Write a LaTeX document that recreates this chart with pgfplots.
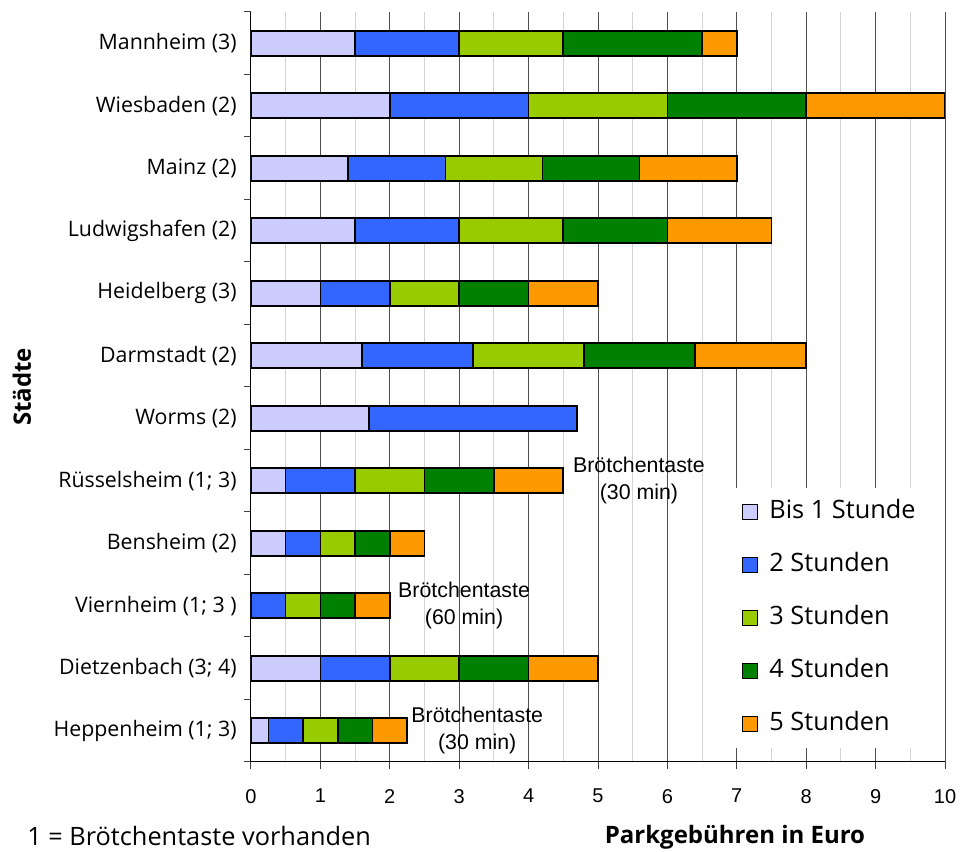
\documentclass[border=0pt]{standalone}
\usepackage{fontspec}
\setmainfont{Open Sans}
\newfontfamily\arialfont{Liberation Sans}
\usepackage{pgfplots}
\usepackage{pgfplotstable}
\pgfplotsset{compat=1.18}

\definecolor{bisEins}{HTML}{CCCCFF}
\definecolor{zweiStd}{HTML}{3366FF}
\definecolor{dreiStd}{HTML}{99CC00}
\definecolor{vierStd}{HTML}{008000}
\definecolor{fuenfStd}{HTML}{FF9900}
\definecolor{gridmajor}{HTML}{505050}
\definecolor{gridminor}{HTML}{D4D4D4}

% Parking fees in Euro, one column per additional hour, rows from bottom to top
\pgfplotstableread{
idx  s1   s2   s3   s4   s5
0    0.25 0.5  0.5  0.5  0.5
1    1    1    1    1    1
2    0    0.5  0.5  0.5  0.5
3    0.5  0.5  0.5  0.5  0.5
4    0.5  1    1    1    1
5    1.7  3    0    0    0
6    1.6  1.6  1.6  1.6  1.6
7    1    1    1    1    1
8    1.5  1.5  1.5  1.5  1.5
9    1.4  1.4  1.4  1.4  1.4
10   2    2    2    2    2
11   1.5  1.5  1.5  2    0.5
}\parktable

\pgfplotsset{
  sqleg/.style={legend image code/.code={%
    \draw[##1,draw=black,line width=0.9pt] (0pt,-5.6pt) rectangle (11.2pt,5.6pt);}},
  segment/.style={fill=#1, draw=black, line width=1.2pt, sqleg},
}

\newcommand\annofont{\arialfont\fontsize{16}{20}\selectfont}

\begin{document}
\begin{tikzpicture}
\begin{axis}[
  name=ax,
  scale only axis,
  width=520.5pt, height=562.5pt,
  xbar stacked, bar width=0.4,
  xmin=0, xmax=10, ymin=-0.5, ymax=11.5,
  axis lines*=left,
  axis line style={-, black, line width=0.75pt},
  xtick={0,...,10}, minor x tick num=1,
  xmajorgrids, xminorgrids,
  major x grid style={color=gridmajor, line width=0.75pt},
  minor x grid style={color=gridminor, line width=0.75pt},
  minor x tick style={draw=none},
  ytick={0,...,11},
  yticklabels={Heppenheim (1; 3),Dietzenbach (3; 4),Viernheim (1; 3 ),Bensheim (2),Rüsselsheim (1; 3),Worms (2),Darmstadt (2),Heidelberg (3),Ludwigshafen (2),Mainz (2),Wiesbaden (2),Mannheim (3)},
  minor ytick={-0.5,0.5,...,11.5},
  major y tick style={draw=none},
  tick align=outside,
  major tick length=5.25pt, minor tick length=5.25pt,
  tick style={color=black!75, line width=0.75pt},
  /pgf/number format/assume math mode=true,
  xticklabel style={font=\arialfont\fontsize{15}{18}\selectfont, yshift=-11.5pt},
  yticklabel style={font=\fontsize{16}{19}\selectfont, xshift=-2pt},
  ylabel={Städte},
  ylabel style={font=\bfseries\fontsize{18}{21}\selectfont, at={(axis description cs:-0.330,0.5)}, anchor=center},
  xlabel={Parkgebühren in Euro},
  xlabel style={font=\bfseries\fontsize{18}{21}\selectfont, at={(axis description cs:0.6974,-0.1093)}, anchor=base},
  legend cell align=left,
  legend style={at={(rel axis cs:0.683,0.3653)}, anchor=north west,
    draw=none, fill=white,
    font=\fontsize{19}{19}\selectfont,
    nodes={inner sep=0pt, text height=14pt, text depth=4.5pt},
    row sep=21.25pt, column sep=8.25pt,
    inner xsep=12.75pt, inner ysep=8.8pt},
]
\addplot[segment=bisEins]  table[x=s1, y=idx] {\parktable};
\addplot[segment=zweiStd]  table[x=s2, y=idx] {\parktable};
\addplot[segment=dreiStd]  table[x=s3, y=idx] {\parktable};
\addplot[segment=vierStd]  table[x=s4, y=idx] {\parktable};
\addplot[segment=fuenfStd] table[x=s5, y=idx] {\parktable};
\legend{Bis 1 Stunde, 2 Stunden, 3 Stunden, 4 Stunden, 5 Stunden}

\node[align=center, font=\annofont] at (axis cs:5.59,4) {Brötchentaste\\(30 min)};
\node[align=center, font=\annofont] at (axis cs:3.07,2) {Brötchentaste\\(60 min)};
\node[align=center, font=\annofont] at (axis cs:3.26,0) {Brötchentaste\\(30 min)};
\end{axis}
% footnote below the chart, outside the clipped plot area
\node[anchor=base west, inner sep=0pt, font=\fontsize{19}{22}\selectfont]
  at ([shift={(-168pt,-63pt)}]ax.south west) {1 = Brötchentaste vorhanden};
\pgfresetboundingbox
\path[use as bounding box] ([shift={(-188.25pt,-67.5pt)}]ax.south west) rectangle ([shift={(531.75pt,571.5pt)}]ax.south west);
\end{tikzpicture}
\end{document}
